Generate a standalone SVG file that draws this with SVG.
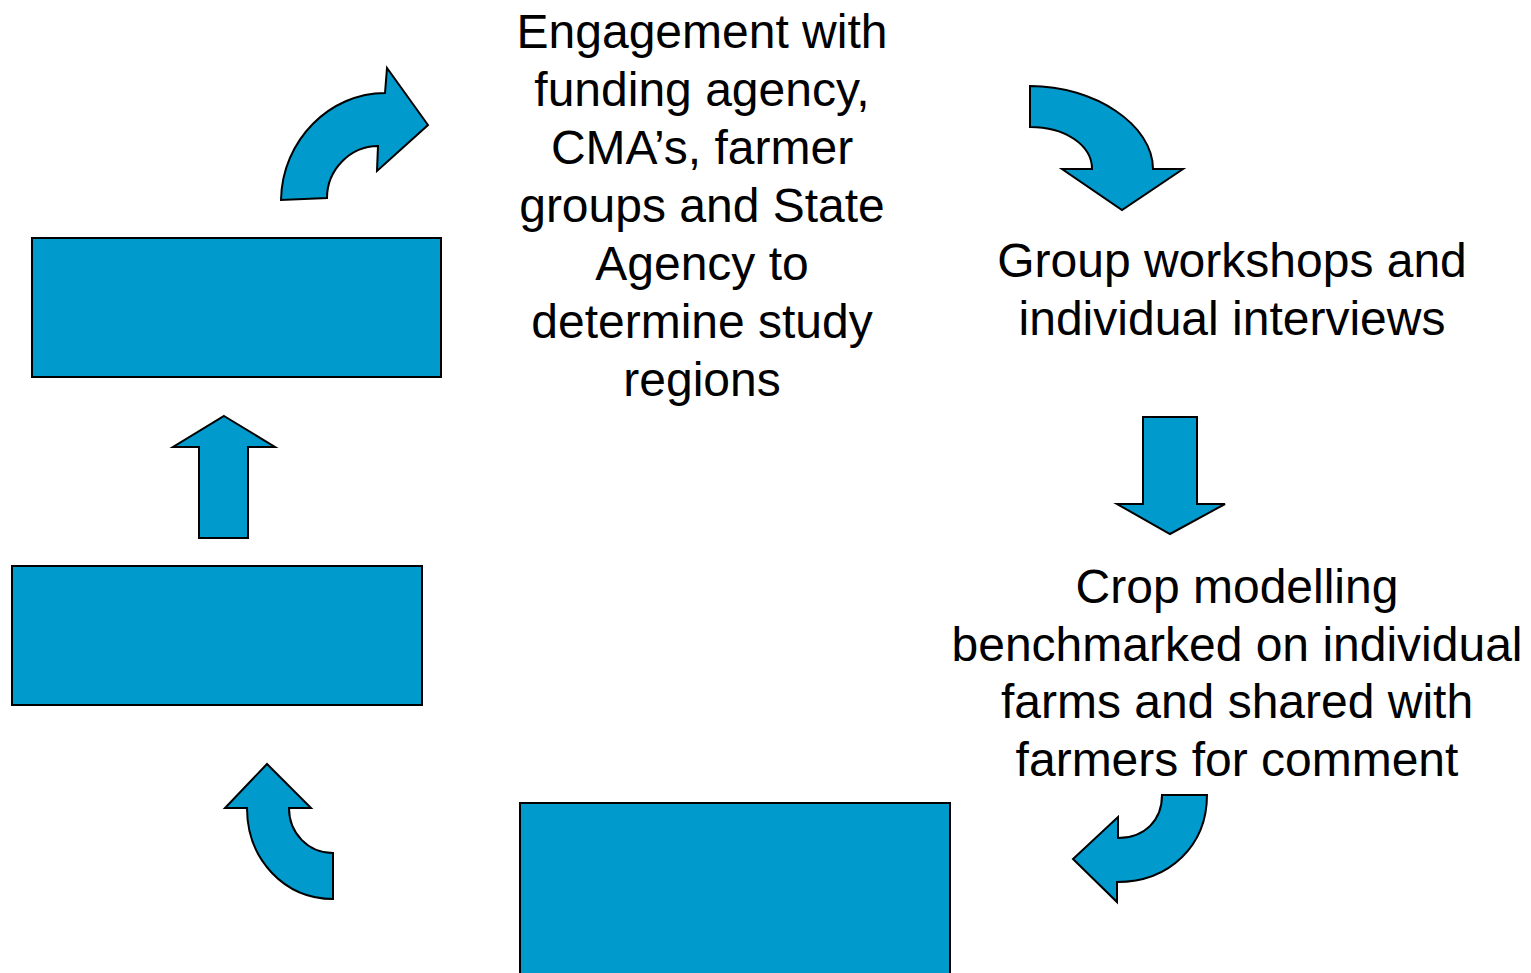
<svg xmlns="http://www.w3.org/2000/svg" width="1531" height="973" viewBox="0 0 1531 973">
<style>
.shape{fill:#009acd;stroke:#000;stroke-width:2;stroke-linejoin:miter}
.t{font-family:"Liberation Sans",Arial,sans-serif;font-size:48px;fill:#000;text-anchor:middle}
</style>
<rect width="1531" height="973" fill="#fff"/>
<g id="connectors">
<path class="shape" d="M281,200 C282,140 330,93 385,93 L387,68 L428,125 L377,171 L378,146 C350,146 327,170 327,198 Z"/>
<path class="shape" d="M1030,86 C1095,86 1153,125 1153,169 L1183,169 L1122,210 L1062,169 L1092,169 C1092,145 1065,127 1030,127 Z"/>
<path class="shape" d="M1143,417 L1197,417 L1197,504 L1225,504 L1170,534 L1117,504 L1143,504 Z"/>
<path class="shape" d="M1207,795 L1162,795 C1162,820 1145,838 1118,838 L1118,817 L1073,859 L1117,902 L1117,882 C1170,882 1207,845 1207,795 Z"/>
<path class="shape" d="M267,764 L311,808 L289,808 C289,833 308,853 333,853 L333,899 C285,899 247,860 247,808 L225,808 Z"/>
<path class="shape" d="M224,416 L275,447 L248,447 L248,538 L199,538 L199,447 L173,447 Z"/>
</g>
<g id="node-engagement">
<text class="t" x="702" y="48">Engagement with</text>
<text class="t" x="702" y="106">funding agency,</text>
<text class="t" x="702" y="164">CMA’s, farmer</text>
<text class="t" x="702" y="222">groups and State</text>
<text class="t" x="702" y="280">Agency to</text>
<text class="t" x="702" y="338">determine study</text>
<text class="t" x="702" y="396">regions</text>
</g>
<g id="node-workshops">
<text class="t" x="1232" y="277">Group workshops and</text>
<text class="t" x="1232" y="335">individual interviews</text>
</g>
<g id="node-crop">
<text class="t" x="1237" y="603">Crop modelling</text>
<text class="t" x="1237" y="661">benchmarked on individual</text>
<text class="t" x="1237" y="718">farms and shared with</text>
<text class="t" x="1237" y="776">farmers for comment</text>
</g>
<g id="node-box-bottom"><rect class="shape" x="520" y="803" width="430" height="175"/></g>
<g id="node-box-left-lower"><rect class="shape" x="12" y="566" width="410" height="139"/></g>
<g id="node-box-left-upper"><rect class="shape" x="32" y="238" width="409" height="139"/></g>
</svg>
